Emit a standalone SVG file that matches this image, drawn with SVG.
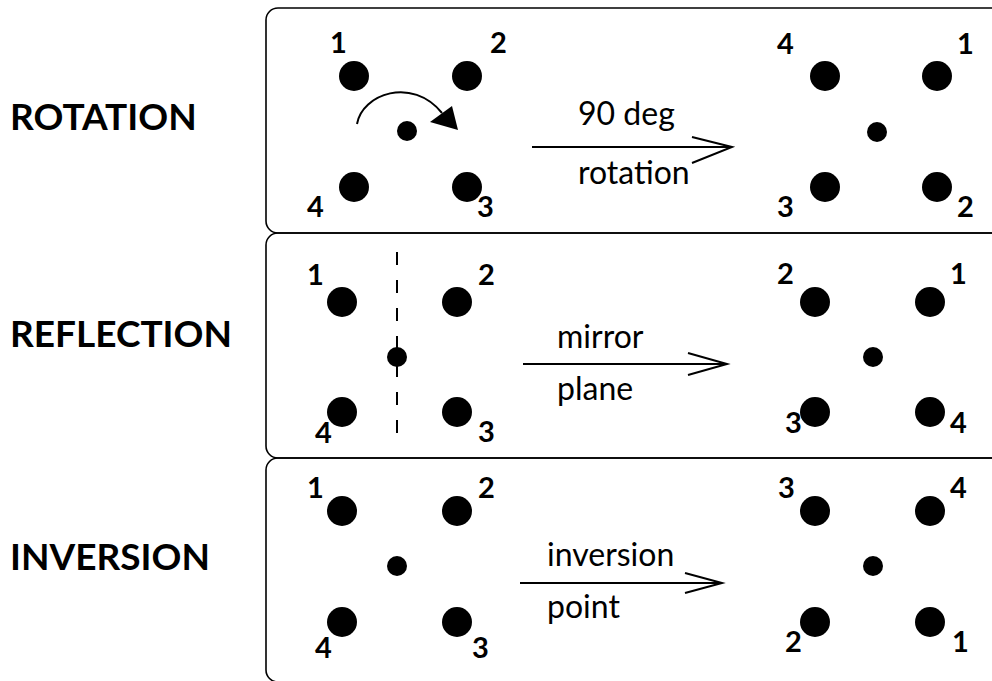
<svg xmlns="http://www.w3.org/2000/svg" width="992" height="681" viewBox="0 0 992 681">
<style>
.box{fill:none;stroke:#000;stroke-width:1.6}
.big{fill:#000}
.sm{fill:#000}
.num{font-family:Lato,"Open Sans",sans-serif;font-size:29px;font-weight:700;fill:#000}
.ttl{font-family:Lato,"Open Sans",sans-serif;font-size:37px;font-weight:700;fill:#000}
.lbl{font-family:Lato,"Open Sans",sans-serif;font-size:32px;fill:#000}
.arr{fill:none;stroke:#000;stroke-width:2}
</style>
<rect width="992" height="681" fill="#fff"/>
<g id="titles">
<text class="ttl" x="10" y="130">ROTATION</text>
<text class="ttl" x="10" y="347">REFLECTION</text>
<text class="ttl" x="10" y="570">INVERSION</text>
</g>
<g id="panel-rotation">
<rect class="box" x="266" y="8" width="740" height="225" rx="12"/>
<circle class="big" cx="354" cy="76" r="15"/>
<circle class="big" cx="467" cy="76" r="15"/>
<circle class="big" cx="354" cy="187" r="15"/>
<circle class="big" cx="467" cy="187" r="15"/>
<circle class="sm" cx="407" cy="131" r="10"/>
<path class="arr" d="M357,124 C362,94 412,76 442,113"/>
<polygon points="458,130 430,122 452,106" fill="#000"/>
<text class="num" x="330" y="53">1</text>
<text class="num" x="490" y="53">2</text>
<text class="num" x="307" y="217">4</text>
<text class="num" x="477" y="217">3</text>
<circle class="big" cx="825" cy="76" r="15"/>
<circle class="big" cx="937" cy="76" r="15"/>
<circle class="big" cx="825" cy="187" r="15"/>
<circle class="big" cx="937" cy="187" r="15"/>
<circle class="sm" cx="877" cy="132" r="10"/>
<text class="num" x="777" y="54">4</text>
<text class="num" x="957" y="54">1</text>
<text class="num" x="777" y="217">3</text>
<text class="num" x="957" y="217">2</text>
</g>
<g id="panel-reflection">
<rect class="box" x="266" y="233" width="740" height="225" rx="12"/>
<line x1="397" y1="252" x2="397" y2="437" stroke="#000" stroke-width="2" stroke-dasharray="13 15"/>
<circle class="big" cx="342" cy="302" r="15"/>
<circle class="big" cx="457" cy="302" r="15"/>
<circle class="big" cx="342" cy="412" r="15"/>
<circle class="big" cx="457" cy="412" r="15"/>
<circle class="sm" cx="397" cy="357" r="10"/>
<text class="num" x="307" y="285">1</text>
<text class="num" x="478" y="285">2</text>
<text class="num" x="315" y="443">4</text>
<text class="num" x="478" y="442">3</text>
<circle class="big" cx="815" cy="302" r="15"/>
<circle class="big" cx="930" cy="302" r="15"/>
<circle class="big" cx="815" cy="412" r="15"/>
<circle class="big" cx="930" cy="412" r="15"/>
<circle class="sm" cx="873" cy="357" r="10"/>
<text class="num" x="777" y="284">2</text>
<text class="num" x="950" y="284">1</text>
<text class="num" x="785" y="433">3</text>
<text class="num" x="950" y="433">4</text>
</g>
<g id="panel-inversion">
<rect class="box" x="266" y="458" width="740" height="224" rx="12"/>
<circle class="big" cx="342" cy="511" r="15"/>
<circle class="big" cx="457" cy="511" r="15"/>
<circle class="big" cx="342" cy="622" r="15"/>
<circle class="big" cx="457" cy="622" r="15"/>
<circle class="sm" cx="397" cy="566" r="10"/>
<text class="num" x="307" y="498">1</text>
<text class="num" x="478" y="498">2</text>
<text class="num" x="315" y="658">4</text>
<text class="num" x="472" y="658">3</text>
<circle class="big" cx="815" cy="511" r="15"/>
<circle class="big" cx="930" cy="511" r="15"/>
<circle class="big" cx="815" cy="622" r="15"/>
<circle class="big" cx="930" cy="622" r="15"/>
<circle class="sm" cx="873" cy="566" r="10"/>
<text class="num" x="778" y="498">3</text>
<text class="num" x="950" y="498">4</text>
<text class="num" x="785" y="652">2</text>
<text class="num" x="952" y="652">1</text>
</g>
<g id="connectors">
<path class="arr" d="M532,147 H732 M692,137 L732,147 L692,163"/>
<path class="arr" d="M523,364 H727 M688,353 L727,364 L688,375"/>
<path class="arr" d="M520,583 H722 M685,573 L722,583 L685,593"/>
<text class="lbl" x="578" y="125">90 deg</text>
<text class="lbl" x="578" y="184">rotation</text>
<text class="lbl" x="557" y="348">mirror</text>
<text class="lbl" x="557" y="400">plane</text>
<text class="lbl" x="547" y="566">inversion</text>
<text class="lbl" x="547" y="618">point</text>
</g>
</svg>
